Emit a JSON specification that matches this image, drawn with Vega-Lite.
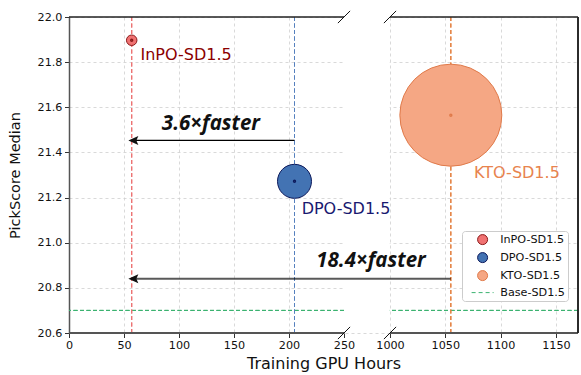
{
  "$schema": "https://vega.github.io/schema/vega-lite/v6.json",
  "width": 509,
  "height": 316,
  "autosize": "none",
  "padding": {"left": 69, "top": 17, "right": 3, "bottom": 42},
  "background": "white",
  "config": {"view": {"stroke": null}, "font": "DejaVu Sans"},
  "datasets": {
    "bubbles": [
      {"series": "InPO-SD1.5", "x": 57, "y": 21.897, "bubble": 1},
      {"series": "DPO-SD1.5", "x": 205, "y": 21.272, "bubble": 10.5},
      {"series": "KTO-SD1.5", "x": 1055, "y": 21.565, "bubble": 94.5}
    ],
    "labels": [
      {"series": "InPO-SD1.5", "x": 65, "y": 21.83},
      {"series": "DPO-SD1.5", "x": 211.5, "y": 21.148},
      {"series": "KTO-SD1.5", "x": 1076, "y": 21.31}
    ],
    "topspine": [
      {"x": 0, "x2": 250, "y": 22.0},
      {"x": 1000, "x2": 1170, "y": 22.0}
    ],
    "bottomspine": [
      {"x": 0, "x2": 250, "y": 20.6},
      {"x": 1000, "x2": 1170, "y": 20.6}
    ],
    "breaks": [
      {"x": 250, "y": 22.0},
      {"x": 1000, "y": 22.0},
      {"x": 250, "y": 20.6},
      {"x": 1000, "y": 20.6}
    ],
    "arrows": [
      {"label": "3.6×faster", "x": 205, "x2": 58.5, "y": 21.453, "tx": 129, "ty": 21.524, "kind": "short"},
      {"label": "18.4×faster", "x": 1055, "x2": 58.5, "y": 20.84, "tx": 690, "ty": 20.921, "kind": "long"}
    ]
  },
  "layer": [
    {
      "data": {"name": "bubbles"},
      "mark": {"type": "rule", "stroke": "#3cb371", "strokeWidth": 1, "strokeDash": [4, 2.5]},
      "encoding": {
        "y": {"datum": 20.7, "type": "quantitative",
          "scale": {"domain": [20.6, 22.0], "nice": false, "zero": false},
          "axis": {
            "title": "PickScore Median", "values": [20.6, 20.8, 21.0, 21.2, 21.4, 21.6, 21.8, 22.0],
            "format": ".1f", "grid": true, "gridColor": "#cfcfcf", "gridDash": [3, 3], "gridWidth": 0.8,
            "domainColor": "#555555", "domainWidth": 1.5, "tickColor": "#333333", "tickSize": 4.5,
            "labelFont": "DejaVu Sans", "labelFontSize": 11.2, "labelColor": "#111111", "labelPadding": 2.5,
            "labelFlush": false, "labelOverlap": false,
            "titleFont": "DejaVu Sans", "titleFontSize": 14.5, "titleFontWeight": "normal", "titleColor": "#111111", "titlePadding": 15
          }
        }
      }
    },
    {
      "data": {"name": "bubbles"},
      "mark": {"type": "rect", "fill": "white"},
      "encoding": {
        "x": {"datum": 251, "type": "quantitative",
          "scale": {"domain": [0, 250, 1000, 1170], "range": [0, 275, 321, 509], "nice": false, "zero": false},
          "axis": {
            "title": "Training GPU Hours", "values": [0, 50, 100, 150, 200, 250, 1000, 1050, 1100, 1150], "format": "d",
            "domain": false, "grid": true, "gridColor": "#cfcfcf", "gridDash": [3, 3], "gridWidth": 0.8,
            "tickColor": "#333333", "tickSize": 4.5,
            "labelFont": "DejaVu Sans", "labelFontSize": 11.2, "labelColor": "#111111", "labelPadding": 2,
            "labelFlush": false, "labelOverlap": false,
            "titleFont": "DejaVu Sans", "titleFontSize": 16, "titleFontWeight": "normal", "titleColor": "#111111", "titlePadding": 5
          }
        },
        "x2": {"datum": 990},
        "y": {"datum": 20.6, "type": "quantitative"},
        "y2": {"datum": 22.0}
      }
    },
    {
      "data": {"name": "bubbles"},
      "mark": {"type": "rule", "stroke": "#ec7272", "strokeWidth": 0.9, "strokeDash": [4, 2.5]},
      "encoding": {"x": {"datum": 57, "type": "quantitative"}}
    },
    {
      "data": {"name": "bubbles"},
      "mark": {"type": "rule", "stroke": "#5580bd", "strokeWidth": 0.9, "strokeDash": [4, 2.5]},
      "encoding": {"x": {"datum": 205, "type": "quantitative"}}
    },
    {
      "data": {"name": "bubbles"},
      "mark": {"type": "rule", "stroke": "#e4813f", "strokeWidth": 0.9, "strokeDash": [4, 2.5]},
      "encoding": {"x": {"datum": 1055, "type": "quantitative"}}
    },
    {
      "data": {"name": "topspine"},
      "mark": {"type": "rule", "strokeWidth": 1.3, "stroke": "#222222"},
      "encoding": {
        "x": {"field": "x", "type": "quantitative"},
        "x2": {"field": "x2"},
        "y": {"field": "y", "type": "quantitative"}
      }
    },
    {
      "data": {"name": "bottomspine"},
      "mark": {"type": "rule", "strokeWidth": 1.8, "stroke": "#555555"},
      "encoding": {
        "x": {"field": "x", "type": "quantitative"},
        "x2": {"field": "x2"},
        "y": {"field": "y", "type": "quantitative"}
      }
    },
    {
      "data": {"name": "bubbles"},
      "mark": {"type": "rule", "stroke": "#222222", "strokeWidth": 1.3},
      "encoding": {
        "x": {"datum": 1170, "type": "quantitative"},
        "y": {"datum": 20.6, "type": "quantitative"},
        "y2": {"datum": 22.0}
      }
    },
    {
      "data": {"name": "breaks"},
      "mark": {"type": "point", "shape": "M-1,1L1,-1", "size": 150, "stroke": "#111111", "strokeWidth": 1, "filled": false, "opacity": 1},
      "encoding": {
        "x": {"field": "x", "type": "quantitative"},
        "y": {"field": "y", "type": "quantitative"}
      }
    },
    {
      "data": {"name": "bubbles"},
      "mark": {"type": "point", "filled": true, "opacity": 1, "strokeWidth": 1},
      "encoding": {
        "x": {"field": "x", "type": "quantitative"},
        "y": {"field": "y", "type": "quantitative"},
        "size": {"field": "bubble", "type": "quantitative", "scale": {"domain": [0, 100], "range": [0, 11000]}, "legend": null},
        "fill": {"field": "series", "type": "nominal",
          "scale": {"domain": ["InPO-SD1.5", "DPO-SD1.5", "KTO-SD1.5", "Base-SD1.5"], "range": ["#f07272", "#4373b3", "#f5a784", "rgba(255,255,255,0)"]},
          "legend": {
            "orient": "none", "legendX": 393, "legendY": 214, "direction": "vertical", "title": null,
            "labelFont": "DejaVu Sans", "labelFontSize": 11.2, "labelColor": "#111111",
            "symbolSize": 100, "symbolStrokeWidth": 1, "symbolOpacity": 1,
            "fillColor": "white", "strokeColor": "#cccccc", "padding": 3, "cornerRadius": 3,
            "rowPadding": 3, "symbolOffset": 12, "labelOffset": 12
          }
        },
        "stroke": {"field": "series", "type": "nominal",
          "scale": {"domain": ["InPO-SD1.5", "DPO-SD1.5", "KTO-SD1.5", "Base-SD1.5"], "range": ["#8b1a1a", "#0d1a5c", "#e07a4a", "#3cb371"]}},
        "shape": {"field": "series", "type": "nominal",
          "scale": {"domain": ["InPO-SD1.5", "DPO-SD1.5", "KTO-SD1.5", "Base-SD1.5"], "range": ["circle", "circle", "circle", "M-2.2,0L-1.4,0M-0.8,0L0,0M0.6,0L1.4,0M2,0L2.2,0"]}}
      }
    },
    {
      "data": {"name": "bubbles"},
      "mark": {"type": "point", "filled": false, "opacity": 1, "size": 2, "strokeWidth": 2},
      "encoding": {
        "x": {"field": "x", "type": "quantitative"},
        "y": {"field": "y", "type": "quantitative"},
        "stroke": {"field": "series", "type": "nominal"}
      }
    },
    {
      "data": {"name": "labels"},
      "mark": {"type": "text", "align": "left", "baseline": "middle", "font": "DejaVu Sans", "fontSize": 16},
      "encoding": {
        "x": {"field": "x", "type": "quantitative"},
        "y": {"field": "y", "type": "quantitative"},
        "text": {"field": "series"},
        "color": {"field": "series", "type": "nominal",
          "scale": {"domain": ["InPO-SD1.5", "DPO-SD1.5", "KTO-SD1.5"], "range": ["#8b0000", "#191970", "#e8834e"]}, "legend": null}
      }
    },
    {
      "data": {"name": "arrows"},
      "mark": {"type": "rule"},
      "encoding": {
        "x": {"field": "x", "type": "quantitative"},
        "x2": {"field": "x2"},
        "y": {"field": "y", "type": "quantitative"},
        "strokeWidth": {"field": "kind", "type": "nominal", "scale": {"domain": ["short", "long"], "range": [1.3, 2]}, "legend": null},
        "opacity": {"field": "kind", "type": "nominal", "scale": {"domain": ["short", "long"], "range": [1, 0.65]}, "legend": null}
      }
    },
    {
      "data": {"name": "arrows"},
      "mark": {"type": "point", "shape": "M-1,0L1,-0.9L0.6,0L1,0.9Z", "size": 100, "filled": true, "fill": "#111111", "opacity": 1, "strokeWidth": 0},
      "encoding": {
        "x": {"field": "x2", "type": "quantitative"},
        "y": {"field": "y", "type": "quantitative"}
      }
    },
    {
      "data": {"name": "arrows"},
      "mark": {"type": "text", "align": "center", "baseline": "middle", "font": "Open Sans", "fontSize": 20.5, "fontWeight": "bold", "fontStyle": "italic", "color": "#111111"},
      "encoding": {
        "x": {"field": "tx", "type": "quantitative"},
        "y": {"field": "ty", "type": "quantitative"},
        "text": {"field": "label"}
      }
    }
  ]
}
